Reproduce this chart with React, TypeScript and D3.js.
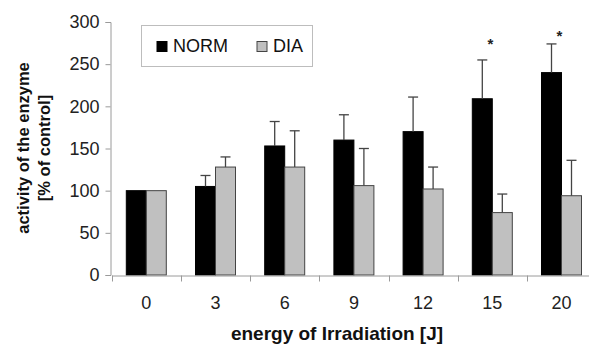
import { useRef, useEffect } from 'react';
import * as d3 from 'd3';

const energies = ['0', '3', '6', '9', '12', '15', '20'];
const seriesNames = ['NORM', 'DIA'];
const normValues = [100, 105, 153, 160, 170, 209, 240];
const normErrors = [0, 13, 29, 30, 41, 46, 34];
const diaValues = [100, 128, 128, 106, 102, 74, 94];
const diaErrors = [0, 12, 43, 44, 26, 22, 42];
// significance markers: category and the level (in % units) the star sits at
const significant = ['15', '20'];
const starLevels = [277, 287];
const yTicks = [0, 50, 100, 150, 200, 250, 300];

const seriesColors: Record<string, string> = { NORM: '#000000', DIA: '#c0c0c0' };

export default function App() {
  const svgRef = useRef<SVGSVGElement>(null);

  useEffect(() => {
    const svg = d3.select(svgRef.current);
    svg.selectAll('*').remove();

    const width = 589;
    const height = 345;
    const font = 'Liberation Sans, Arial, sans-serif';

    svg.attr('width', width).attr('height', height);

    const x0 = d3.scaleBand<string>().domain(energies).range([111.7, 596.1]);
    const groupWidth = 40;
    const x1 = d3.scaleBand<string>().domain(seriesNames).range([0, groupWidth]);
    const y = d3.scaleLinear().domain([0, 300]).range([275, 22]);

    const rows = energies.map((e, i) => ({
      energy: e,
      bars: [
        { name: 'NORM', value: normValues[i], err: normErrors[i] },
        { name: 'DIA', value: diaValues[i], err: diaErrors[i] },
      ],
    }));

    const barX = (e: string, name: string) =>
      (x0(e) ?? 0) + (x0.bandwidth() - groupWidth) / 2 + (x1(name) ?? 0);

    // Y axis
    const yAxis = svg.append('g')
      .attr('transform', 'translate(110.5,0)')
      .call(d3.axisLeft(y).tickValues(yTicks).tickSize(5).tickPadding(6));
    yAxis.select('.domain').attr('stroke', '#9a9a9a');
    yAxis.selectAll('line').attr('stroke', '#9a9a9a');
    yAxis.selectAll('text')
      .attr('font-family', font)
      .attr('font-size', 18)
      .attr('fill', '#222');

    // Bars
    const groups = svg.append('g')
      .selectAll('g')
      .data(rows)
      .join('g');

    groups.selectAll('rect')
      .data((d) => d.bars.map((b) => ({ ...b, energy: d.energy })))
      .join('rect')
      .attr('x', (d) => barX(d.energy, d.name))
      .attr('y', (d) => y(d.value))
      .attr('width', x1.bandwidth())
      .attr('height', (d) => y(0) - y(d.value))
      .attr('fill', (d) => seriesColors[d.name])
      .attr('stroke', (d) => (d.name === 'NORM' ? '#000' : '#444'))
      .attr('stroke-width', 1);

    // Error bars (upper only)
    const errs = rows.flatMap((d) =>
      d.bars.filter((b) => b.err > 0).map((b) => ({ ...b, energy: d.energy }))
    );
    const errG = svg.append('g').attr('stroke', '#444').attr('stroke-width', 1.3);
    errG.selectAll('line.stem')
      .data(errs)
      .join('line')
      .attr('class', 'stem')
      .attr('x1', (d) => barX(d.energy, d.name) + x1.bandwidth() / 2)
      .attr('x2', (d) => barX(d.energy, d.name) + x1.bandwidth() / 2)
      .attr('y1', (d) => y(d.value))
      .attr('y2', (d) => y(d.value + d.err));
    errG.selectAll('line.cap')
      .data(errs)
      .join('line')
      .attr('class', 'cap')
      .attr('x1', (d) => barX(d.energy, d.name) + x1.bandwidth() / 2 - 5)
      .attr('x2', (d) => barX(d.energy, d.name) + x1.bandwidth() / 2 + 5)
      .attr('y1', (d) => y(d.value + d.err))
      .attr('y2', (d) => y(d.value + d.err));

    // Significance stars
    svg.append('g')
      .selectAll('text')
      .data(significant.map((e, i) => ({ energy: e, level: starLevels[i] })))
      .join('text')
      .attr('x', (d) => (x0(d.energy) ?? 0) + x0.bandwidth() / 2 - 2)
      .attr('y', (d) => y(d.level) + 8)
      .attr('text-anchor', 'middle')
      .attr('font-family', font)
      .attr('font-size', 15)
      .attr('font-weight', 'bold')
      .attr('fill', '#222')
      .text('*');

    // X axis
    const xAxis = svg.append('g')
      .attr('transform', `translate(0,${y(0) + 0.5})`)
      .call(d3.axisBottom(x0).tickSize(0).tickPadding(21));
    xAxis.select('.domain').attr('stroke', '#9a9a9a');
    xAxis.selectAll('text')
      .attr('font-family', font)
      .attr('font-size', 18)
      .attr('fill', '#222');
    // category boundary ticks
    xAxis.append('g')
      .selectAll('line')
      .data(energies)
      .join('line')
      .attr('x1', (d) => Math.round(x0(d) ?? 0) + 0.5)
      .attr('x2', (d) => Math.round(x0(d) ?? 0) + 0.5)
      .attr('y1', 0)
      .attr('y2', 6)
      .attr('stroke', '#9a9a9a');

    // Axis titles
    svg.append('text')
      .attr('x', 337)
      .attr('y', 340)
      .attr('text-anchor', 'middle')
      .attr('font-family', font)
      .attr('font-size', 19)
      .attr('font-weight', 'bold')
      .attr('fill', '#111')
      .text('energy of Irradiation [J]');

    const yTitle = svg.append('text')
      .attr('transform', 'translate(29,148) rotate(-90)')
      .attr('text-anchor', 'middle')
      .attr('font-family', font)
      .attr('font-size', 16.5)
      .attr('font-weight', 'bold')
      .attr('fill', '#111');
    yTitle.append('tspan').attr('x', 0).attr('y', 0).text('activity of the enzyme');
    yTitle.append('tspan').attr('x', 0).attr('y', 21).text('[% of control]');

    // Legend
    const legend = svg.append('g');
    legend.append('rect')
      .attr('x', 141.5)
      .attr('y', 25.5)
      .attr('width', 171)
      .attr('height', 41)
      .attr('fill', '#fff')
      .attr('stroke', '#bdbdbd');
    const legendX = [157, 257];
    seriesNames.forEach((name, i) => {
      legend.append('rect')
        .attr('x', legendX[i])
        .attr('y', 41.5)
        .attr('width', 10)
        .attr('height', 10)
        .attr('fill', seriesColors[name])
        .attr('stroke', name === 'NORM' ? '#000' : '#444');
      legend.append('text')
        .attr('x', legendX[i] + 16)
        .attr('y', 51.5)
        .attr('font-family', font)
        .attr('font-size', 18)
        .attr('fill', '#111')
        .text(name);
    });
  }, []);

  return (
    <div style={{ position: 'absolute', left: 0, top: 0 }}>
      <svg ref={svgRef} style={{ display: 'block' }} />
    </div>
  );
}
